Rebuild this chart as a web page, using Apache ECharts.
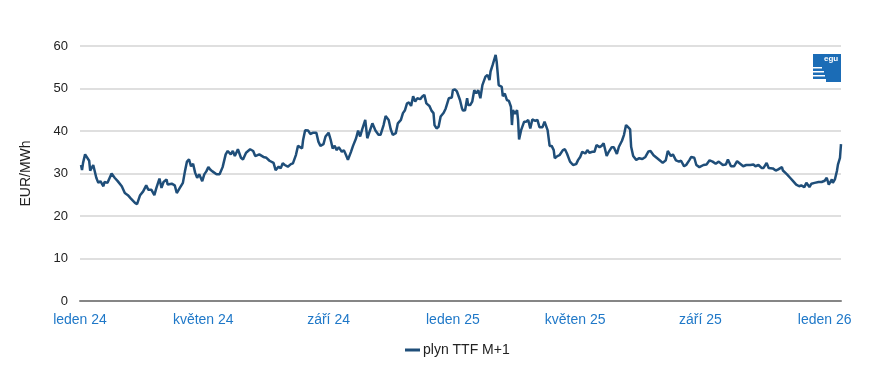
<!DOCTYPE html>
<html>
<head>
<meta charset="utf-8">
<script src="https://cdn.jsdelivr.net/npm/echarts@6/dist/echarts.min.js"></script>
<style>html,body{margin:0;padding:0;background:#fff}#c{width:881px;height:365px}</style>
</head>
<body>
<div id="c"></div>
<script>
// Dates are days since 2024-01-01 (trading-day samples)
const startDate = '2024-01-01';
const endOffset = 747;
const dayOffsets = [1,2,3,5,6,9,10,11,13,14,16,18,20,23,24,27,31,34,37,41,44,47,50,54,56,59,62,65,67,70,73,75,78,80,82,85,86,90,93,95,98,101,103,105,107,109,111,113,115,117,120,122,124,126,128,130,134,137,140,143,145,148,150,152,155,158,160,163,167,170,172,176,180,183,186,190,192,195,197,199,201,204,207,209,212,214,218,219,221,224,226,229,232,234,236,239,241,244,246,248,250,252,254,257,259,261,263,266,268,271,273,275,277,280,282,285,287,290,293,295,298,300,303,305,307,310,312,315,317,319,321,323,325,327,329,331,334,336,338,340,343,345,347,348,350,352,354,357,359,362,365,366,368,370,373,375,376,378,380,381,383,385,387,389,391,393,395,398,400,402,403,405,406,408,409,410,411,414,415,417,419,421,423,424,425,427,429,430,431,433,436,438,440,442,444,447,449,451,454,456,459,461,463,465,466,468,471,474,476,478,481,484,487,489,491,493,496,498,500,503,505,507,510,512,514,517,519,522,524,527,529,532,534,536,538,540,541,543,546,549,552,555,558,560,563,566,569,572,575,577,580,582,585,588,590,593,595,598,600,603,605,608,612,615,618,621,624,627,631,634,636,639,642,645,648,651,654,658,661,663,666,669,671,674,676,680,683,685,689,690,694,697,700,703,706,708,711,713,716,718,721,725,728,731,733,735,738,739,741,743,744,746,747];
const prices = [32.0,30.8,32.5,34.5,34.5,33.0,30.7,30.9,32.0,32.0,29.0,27.8,28.2,27.0,28.0,27.8,30.0,29.0,28.2,27.0,25.4,24.9,24.1,23.1,22.8,24.9,25.8,27.2,26.2,26.2,24.9,26.6,28.8,26.6,28.0,28.6,27.4,27.6,27.2,25.4,26.6,27.8,30.5,32.8,33.3,31.7,32.3,30.2,29.0,29.8,28.2,29.8,30.5,31.5,30.9,30.5,29.8,29.8,31.5,34.5,35.3,34.5,35.3,34.1,35.7,33.7,33.3,34.9,35.7,35.3,34.1,34.5,33.9,33.7,33.0,32.5,30.8,31.6,31.2,32.4,32.0,31.6,32.2,32.4,34.4,36.5,35.9,37.9,40.2,40.1,39.3,39.6,39.6,37.5,36.5,36.9,38.7,39.6,38.0,35.9,36.5,35.5,36.2,35.1,35.5,34.4,33.2,35.1,36.5,38.3,40.1,38.7,40.4,42.6,38.3,40.4,41.8,40.1,39.1,39.1,41.4,43.5,42.6,40.4,39.1,39.5,41.8,42.6,44.2,44.9,46.5,46.7,45.9,48.2,46.9,47.7,47.5,48.1,48.5,46.5,45.9,44.8,44.2,41.4,40.6,41.0,43.4,44.3,45.3,47.7,47.9,49.6,49.8,49.3,47.3,45.3,44.8,44.9,47.7,46.1,46.1,46.9,49.6,48.9,49.6,47.7,50.8,52.8,53.2,52.0,54.0,55.5,55.9,57.9,56.3,53.6,50.8,50.4,48.2,48.8,47.3,47.1,45.7,41.4,44.9,44.0,44.9,42.6,38.0,40.2,42.2,42.2,42.6,40.6,42.7,42.4,42.6,40.9,40.9,42.2,40.2,36.5,36.5,35.5,33.6,34.0,34.4,35.5,35.7,34.7,32.8,32.0,32.2,33.2,33.9,35.1,34.7,35.5,34.9,35.1,35.1,36.7,36.2,36.5,37.1,34.1,35.1,36.2,36.2,34.6,36.3,37.7,39.1,41.4,40.9,40.4,36.3,34.1,33.2,33.6,33.4,33.9,35.2,35.3,34.3,33.7,33.1,32.5,33.1,35.3,34.1,34.5,33.1,32.8,33.0,31.7,32.0,33.1,33.9,33.7,32.0,31.5,32.0,32.1,33.1,32.8,32.3,32.8,32.0,32.1,33.3,31.7,31.7,32.9,32.3,31.7,32.0,32.0,32.1,31.7,32.0,31.3,31.3,32.5,31.3,31.2,30.7,30.9,31.5,30.7,29.8,29.0,28.2,27.4,27.0,27.2,26.8,27.8,26.8,27.6,27.8,28.0,28.0,28.3,29.0,27.4,28.6,27.8,28.6,30.6,32.1,33.7,36.9];
const tickDates = ['2024-01-01','2024-05-01','2024-09-01','2025-01-01','2025-05-01','2025-09-01','2026-01-01'];
const tickLabels = ['leden 24','květen 24','září 24','leden 25','květen 25','září 25','leden 26'];
const yTicks = [0,10,20,30,40,50,60];
const seriesName = 'plyn TTF M+1';

function fmt(d){const m=d.getUTCMonth()+1, dd=d.getUTCDate();return d.getUTCFullYear()+'-'+(m<10?'0':'')+m+'-'+(dd<10?'0':'')+dd;}
const base = new Date(startDate+'T00:00:00Z');
const categories = [];
for (let i=0;i<=endOffset;i++){categories.push(fmt(new Date(base.getTime()+i*86400000)));}
const data = dayOffsets.map((d,i)=>[d, prices[i]]);

const chart = echarts.init(document.getElementById('c'), null, {renderer:'canvas'});
const FONT = 'Liberation Sans, Arial, sans-serif';
chart.setOption({
  animation:false,
  grid:{left:80,right:40,top:46,bottom:64},
  xAxis:{
    type:'category', data:categories, boundaryGap:false,
    axisLine:{show:true,lineStyle:{color:'#868686',width:2}},
    axisTick:{show:false},
    splitLine:{show:false},
    axisLabel:{
      interval:(idx,val)=>tickDates.indexOf(val)>=0,
      formatter:(val)=>{const k=tickDates.indexOf(val);return k>=0?tickLabels[k]:'';},
      color:'#1F78C8', fontFamily:FONT, fontSize:14, margin:12, hideOverlap:false
    }
  },
  yAxis:{
    type:'value', min:yTicks[0], max:yTicks[yTicks.length-1], interval:10,
    name:'EUR/MWh', nameLocation:'middle', nameGap:47, nameRotate:90,
    nameTextStyle:{color:'#222',fontFamily:FONT,fontSize:14},
    axisLine:{show:false}, axisTick:{show:false},
    axisLabel:{color:'#222',fontFamily:FONT,fontSize:13,margin:12},
    splitLine:{show:true,lineStyle:{color:'#D4D4D4',width:1.5}}
  },
  legend:{
    show:true, left:400, top:338, icon:'rect', itemWidth:15, itemHeight:3, itemGap:4,
    textStyle:{color:'#222',fontFamily:FONT,fontSize:14,padding:[0,0,0,-2]},
    data:[seriesName]
  },
  series:[{
    name:seriesName, type:'line', data:data, showSymbol:false, symbol:'none',
    lineStyle:{color:'#1F4E79',width:2.5}, itemStyle:{color:'#1F4E79'}
  }],
  graphic:[
    {type:'polygon', shape:{points:[[813,54],[841,54],[841,82],[826,82],[826,79],[813,79]]}, style:{fill:'#1B6CB6'}},
    {type:'text', left:824, top:55, style:{text:'egu', fill:'#fff', font:'bold 8px Liberation Sans, Arial'}},
    {type:'rect', shape:{x:813,y:67,width:9,height:1.5}, style:{fill:'#fff'}},
    {type:'rect', shape:{x:813,y:71,width:11,height:1.5}, style:{fill:'#fff'}},
    {type:'rect', shape:{x:813,y:75,width:12,height:1.5}, style:{fill:'#fff'}}
  ]
});
</script>
</body>
</html>
